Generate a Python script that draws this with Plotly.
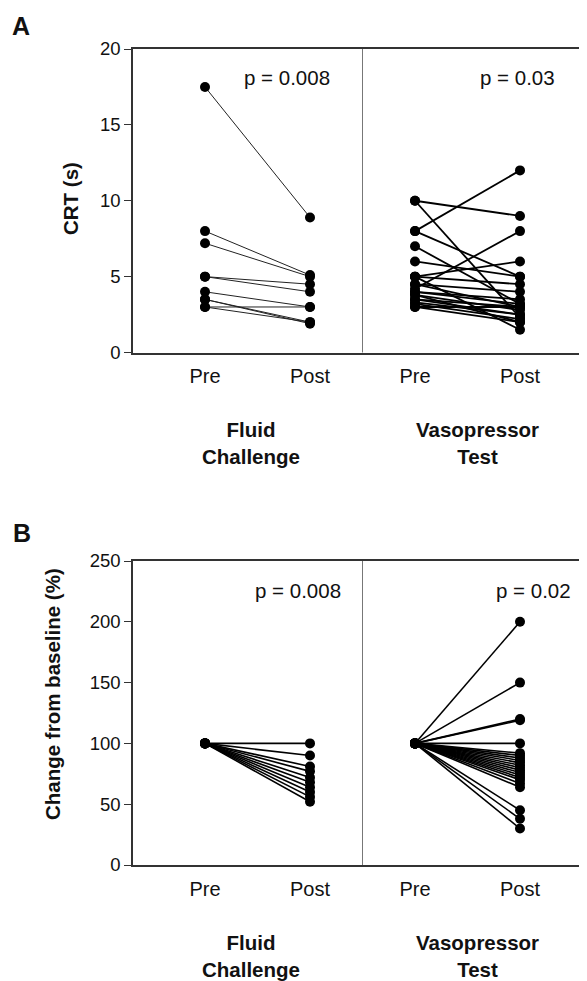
import plotly.graph_objects as go

W, H = 587, 981
OX, OY = 8, 8  # default page body margin offsets the figure on screen

# ---------------- data ----------------
x_categories = ["Pre", "Post", "Pre", "Post"]
group_labels = ["Fluid<br>Challenge", "Vasopressor<br>Test"]

fluid_crt_pre = [17.5, 8.0, 7.2, 5.0, 5.0, 4.0, 3.5, 3.5, 3.0, 3.0]
fluid_crt_post = [8.9, 5.1, 5.0, 4.5, 4.0, 3.0, 2.0, 1.9, 3.0, 2.0]

vaso_crt_pre = [10, 10, 8, 8, 7, 6, 5, 4.2, 5, 5, 4.5, 4.5, 4.0, 4.0, 3.8, 3.5, 3.5, 3.3, 3.2, 3.0, 3.0, 3.8]
vaso_crt_post = [9, 2.3, 12, 5.0, 3.2, 5.0, 6, 8, 1.5, 4.5, 4.0, 3.0, 3.5, 3.2, 2.8, 3.0, 2.5, 2.5, 2.2, 3.0, 2.0, 2.0]

fluid_pct_pre = [100] * 10
fluid_pct_post = [100, 90, 81, 77, 72, 68, 64, 60, 56, 52]

vaso_pct_pre = [100] * 22
vaso_pct_post = [200, 150, 120, 119, 100, 92, 90, 88, 86, 84, 82, 80, 78, 76, 74, 72, 70, 67, 64, 45, 38, 30]

p_values_A = ["p = 0.008", "p = 0.03"]
p_values_B = ["p = 0.008", "p = 0.02"]

crt_ticks = [0, 5, 10, 15, 20]
pct_ticks = [0, 50, 100, 150, 200, 250]

FONT = "Arial, Liberation Sans, Helvetica, sans-serif"


def px(x):
    return (x - OX) / W


def py(y):
    return 1 - (y - OY) / H


def paired(pre, post, xpre, xpost):
    xs, ys = [], []
    for a, b in zip(pre, post):
        xs += [xpre, xpost, None]
        ys += [a, b, None]
    return xs, ys


fig = go.Figure()

groups = [
    ("x", "y", fluid_crt_pre, fluid_crt_post, 0, 1, 1.0, "#222"),
    ("x", "y", vaso_crt_pre, vaso_crt_post, 2, 3, 1.8, "#000"),
    ("x2", "y2", fluid_pct_pre, fluid_pct_post, 0, 1, 1.6, "#000"),
    ("x2", "y2", vaso_pct_pre, vaso_pct_post, 2, 3, 1.6, "#000"),
]
for xa, ya, pre, post, xp0, xp1, lw, lc in groups:
    xs, ys = paired(pre, post, xp0, xp1)
    fig.add_trace(go.Scatter(
        x=xs, y=ys, xaxis=xa, yaxis=ya, mode="lines+markers",
        line=dict(color=lc, width=lw),
        marker=dict(color="black", size=10),
        showlegend=False, hoverinfo="skip", cliponaxis=False,
    ))

# screen x of category 0 is 205, spacing 105 px; axis spans screen 133 .. OX+W
x_left = (133 - 205) / 105
x_right = (OX + W - 205) / 105
xrange = [x_left, x_right]

axis_common = dict(
    showgrid=False, zeroline=False, showline=True, linecolor="#333", linewidth=1.6,
    automargin=False,
)
xa_common = dict(
    axis_common, range=xrange, tickmode="array", tickvals=[0, 1, 2, 3], ticktext=x_categories,
    ticks="outside", ticklen=5, tickcolor="rgba(0,0,0,0)", mirror=True,
    tickfont=dict(family=FONT, size=20, color="#111"),
)
ya_common = dict(
    axis_common, ticks="outside", ticklen=7, tickwidth=1.4, tickcolor="#333",
    tickfont=dict(family=FONT, size=18.5, color="#111"),
)

fig.update_layout(
    width=W, height=H, margin=dict(l=0, r=0, t=0, b=0, autoexpand=False),
    paper_bgcolor="white", plot_bgcolor="white",
    xaxis=dict(xa_common, domain=[px(133), 1], anchor="y"),
    yaxis=dict(ya_common, domain=[py(352.5), py(49)], range=[0, 20], tickvals=crt_ticks, anchor="x"),
    xaxis2=dict(xa_common, domain=[px(133), 1], anchor="y2"),
    yaxis2=dict(ya_common, domain=[py(865), py(561)], range=[0, 250], tickvals=pct_ticks, anchor="x2"),
)

# divider lines between groups
for xr, yr in [("x", "y domain"), ("x2", "y2 domain")]:
    fig.add_shape(type="line", xref=xr, yref=yr, x0=1.5, x1=1.5, y0=0, y1=1,
                  line=dict(color="#777", width=1))

ann = []
# p values
ann.append(dict(x=1.21, y=18.1, xref="x", yref="y", text=p_values_A[0], xanchor="right"))
ann.append(dict(x=3.35, y=18.1, xref="x", yref="y", text=p_values_A[1], xanchor="right"))
ann.append(dict(x=1.314, y=226, xref="x2", yref="y2", text=p_values_B[0], xanchor="right"))
ann.append(dict(x=3.505, y=226, xref="x2", yref="y2", text=p_values_B[1], xanchor="right"))
for a in ann:
    a.update(showarrow=False, yanchor="middle", font=dict(family=FONT, size=20.5, color="#111"))

bold = dict(family=FONT, size=20.5, color="#111")


def two_line(s):
    return "<b>" + s.replace("<br>", "</b><br><b>") + "</b>"


extra = [
    dict(x=px(21), y=py(26), text="<b>A</b>", font=dict(family=FONT, size=25, color="#111")),
    dict(x=px(22), y=py(533), text="<b>B</b>", font=dict(family=FONT, size=25, color="#111")),
    dict(x=px(70), y=py(199), text="<b>CRT (s)</b>", textangle=-90, font=bold),
    dict(x=px(52), y=py(694), text="<b>Change from baseline (%)</b>", textangle=-90, font=bold),
    dict(x=px(251), y=py(443), text=two_line(group_labels[0]), font=bold),
    dict(x=px(477), y=py(443), text=two_line(group_labels[1]), font=bold),
    dict(x=px(251), y=py(956), text=two_line(group_labels[0]), font=bold),
    dict(x=px(477), y=py(956), text=two_line(group_labels[1]), font=bold),
]
for a in extra:
    a.update(xref="paper", yref="paper", showarrow=False, xanchor="center", yanchor="middle")
ann += extra
fig.update_layout(annotations=ann)

fig.write_html("out.html")
